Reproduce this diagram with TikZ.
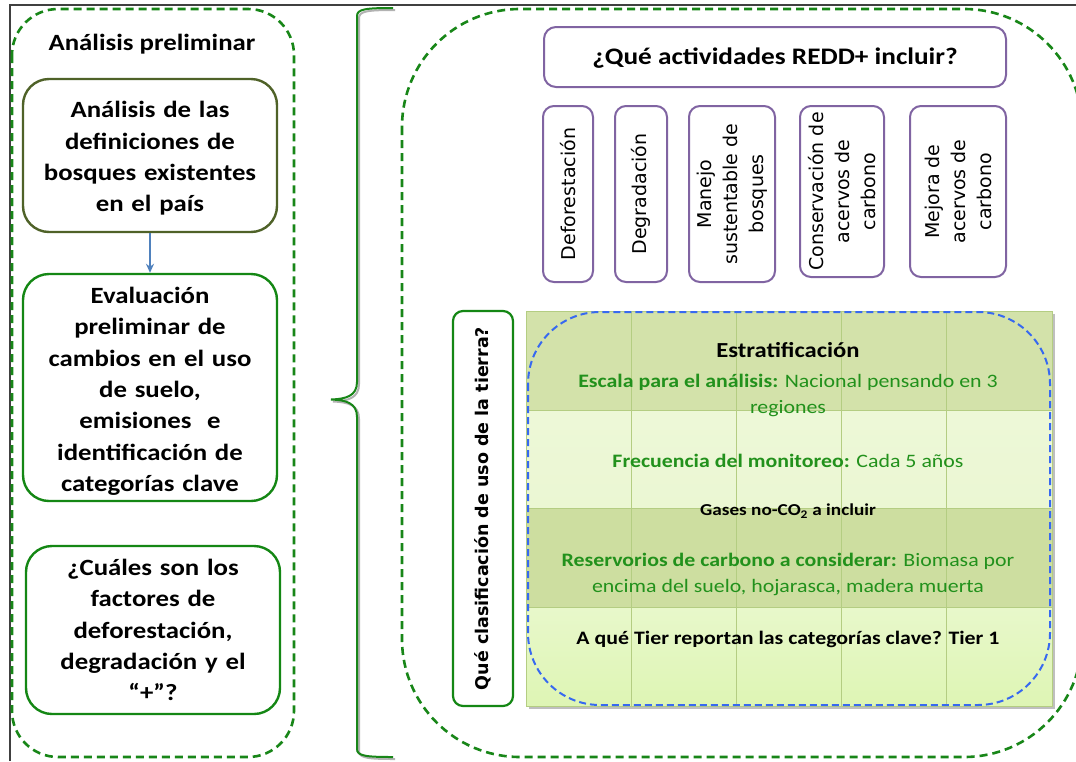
\documentclass[tikz,border=0pt]{standalone}
\usepackage{fontspec}
\setmainfont{Carlito}[FakeStretch=1.15]
\newfontfamily\dvs{DejaVu Sans}
\usetikzlibrary{arrows.meta}
\definecolor{dgreen}{RGB}{24,134,24}
\definecolor{bgreen}{RGB}{20,135,20}
\definecolor{tgreen}{RGB}{34,145,28}
\definecolor{olive}{RGB}{79,98,40}
\definecolor{purp}{RGB}{128,100,162}
\definecolor{arrblue}{RGB}{79,129,189}
\definecolor{dblue}{RGB}{55,105,240}
\definecolor{rowa}{RGB}{211,226,170}
\definecolor{rowb}{RGB}{235,247,211}
\definecolor{rowc}{RGB}{205,222,160}
\definecolor{rowd}{RGB}{222,245,180}
\definecolor{gridc}{RGB}{180,205,130}
\tikzset{
  gdash/.style={draw=dgreen, line width=2.6pt, dash pattern=on 8pt off 5pt},
  leftbox/.style={draw=bgreen, line width=2.4pt, rounded corners=26pt, minimum width=254pt, align=center, text width=244pt, inner sep=0pt},
  lefttxt/.style={font=\bfseries\fontsize{23.3}{31.3}\selectfont},
  actbox/.style={draw=purp, line width=2pt, rounded corners=11pt, rotate=90, align=center, inner sep=0pt, font=\dvs\fontsize{19}{26}\selectfont},
  tabtxt/.style={align=center, font=\fontsize{19}{26}\selectfont, text=tgreen},
}
\begin{document}
\begin{tikzpicture}[x=1pt,y=-1pt]
\useasboundingbox (0,0) rectangle (1076,761);
\clip (0,0) rectangle (1076,761);
\fill[white] (0,0) rectangle (1076,761);
% frame lines
\draw[line width=1.3pt, black!75] (10,761) -- (10,5) -- (1076,5);
% left dashed container
\draw[gdash, rounded corners=46pt] (12,9) rectangle (294,757);
\node[lefttxt] (title) at (152,44) {Análisis preliminar};
\node[leftbox, draw=olive, minimum height=153pt, lefttxt] (b1) at (150,155.5)
  {\rule{0pt}{22pt}Análisis de las\\definiciones de\\bosques existentes\\en el país};
\node[leftbox, minimum height=227pt, lefttxt] (b2) at (150,387.5)
  {\rule{0pt}{24pt}Evaluación\\preliminar de\\cambios en el uso\\de suelo,\\emisiones\ \ e\\identificación de\\categorías clave};
\node[leftbox, minimum height=168pt, lefttxt] (b3) at (153,630)
  {¿Cuáles son los\\factores de\\deforestación,\\degradación y el\\“+”?};
\draw[arrblue, line width=1.8pt, -{Stealth[length=9pt,width=8pt]}] (b1.south) -- (b2.north);
% brace
\draw[black!30, line width=2pt, shift={(2,2)}] (393,8) .. controls (366,8) and (357,9) .. (357,16) -- (357,382) .. controls (357,396) and (346,399) .. (331,399.5) .. controls (346,400) and (357,403) .. (357,417) -- (357,749) .. controls (357,756) and (366,757) .. (393,757);
\draw[dgreen, line width=2pt] (393,8) .. controls (366,8) and (357,9) .. (357,16) -- (357,382) .. controls (357,396) and (346,399) .. (331,399.5) .. controls (346,400) and (357,403) .. (357,417) -- (357,749) .. controls (357,756) and (366,757) .. (393,757);
% right dashed container
\draw[gdash, rounded corners=118pt] (402,9) rectangle (1082,757);
% top question
\node[draw=purp, line width=2pt, rounded corners=12pt, minimum width=462pt, minimum height=60pt, font=\bfseries\fontsize{23.7}{26}\selectfont] (q) at (775,57) {\rule{0pt}{19pt}¿Qué actividades REDD+ incluir?};
% activity boxes
\node[actbox, minimum width=176pt, minimum height=50pt] (a1) at (568,194) {Deforestación};
\node[actbox, minimum width=176pt, minimum height=52pt] (a2) at (641,194) {Degradación};
\node[actbox, minimum width=176pt, minimum height=86pt] (a3) at (732,194) {Manejo\\sustentable de\\bosques};
\node[actbox, minimum width=171pt, minimum height=84pt] (a4) at (842,191.5) {Conservación de\\acervos de\\carbono};
\node[actbox, minimum width=171pt, minimum height=96pt] (a5) at (958,191.5) {Mejora de\\acervos de\\carbono};
% land-use question
\node[draw=bgreen, line width=2.2pt, rounded corners=10pt, rotate=90, minimum width=395pt, minimum height=60pt, font=\dvs\bfseries\fontsize{17.5}{20}\selectfont] (lu) at (483,508.5) {Qué clasificación de uso de la tierra?};
% table
\fill[black!25] (529,314) rectangle (1055,709);
\fill[rowa] (526,311) rectangle (1052,410);
\shade[top color=rowb!90!white, bottom color=rowb] (526,410) rectangle (1052,508);
\fill[rowc] (526,508) rectangle (1052,607);
\shade[top color=rowd!70!white, bottom color=rowd] (526,607) rectangle (1052,706);
\draw[gridc, line width=1pt] (526,311) rectangle (1052,706);
\foreach \yy in {410,508,607} \draw[gridc, line width=1pt] (526,\yy) -- (1052,\yy);
\foreach \xx in {631,736,841,946} \draw[gridc, line width=1pt] (\xx,311) -- (\xx,706);
\draw[dblue, line width=2pt, dash pattern=on 7pt off 4pt, rounded corners=72pt] (528,312) rectangle (1050,705);
\node[font=\bfseries\fontsize{21.4}{24}\selectfont] (est) at (788,350) {Estratificación};
\node[tabtxt] (esc) at (788,395) {\textbf{Escala para el análisis:} Nacional pensando en 3\\regiones};
\node[tabtxt] (fre) at (788,461) {\textbf{Frecuencia del monitoreo:} Cada 5 años};
\node[font=\bfseries\fontsize{16.7}{18}\selectfont] (gas) at (788,511) {Gases no-CO\textsubscript{2} a incluir};
\node[tabtxt] (res) at (788,574) {\textbf{Reservorios de carbono a considerar:} Biomasa por\\encima del suelo, hojarasca, madera muerta};
\node[font=\bfseries\fontsize{19}{24}\selectfont] (tier) at (788,639) {A qué Tier reportan las categorías clave? Tier 1};
\end{tikzpicture}
\end{document}
